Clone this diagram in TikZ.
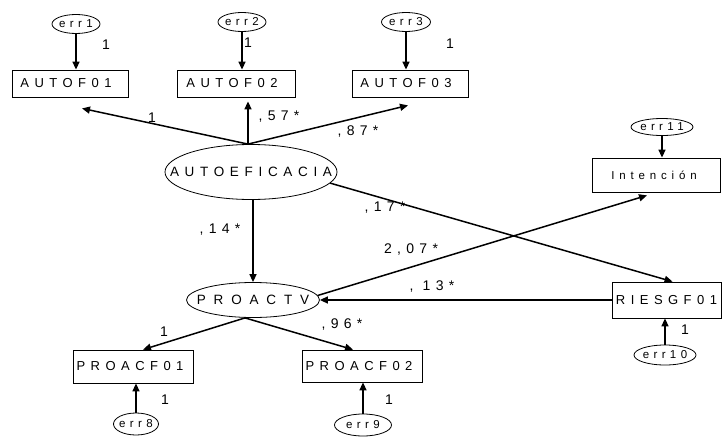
\documentclass[tikz,border=0pt]{standalone}
\usepackage{fontspec}
\setmainfont{Liberation Sans}
\newfontfamily\spf[LetterSpace=42]{Liberation Sans}
\newfontfamily\spfw[LetterSpace=58]{Liberation Sans}
\newfontfamily\spfc[LetterSpace=38]{Liberation Sans}
\usetikzlibrary{shapes.geometric,arrows.meta}
\begin{document}
\begin{tikzpicture}[x=1pt,y=-1pt,
  obs/.style={draw,line width=0.8pt,rectangle,inner sep=0pt,font=\spf\fontsize{13}{15}\selectfont},
  lat/.style={draw,line width=0.8pt,ellipse,inner sep=0pt,font=\spf\fontsize{13.5}{15}\selectfont},
  errs/.style={draw,line width=0.8pt,ellipse,inner sep=0pt,font=\spfc\fontsize{11.5}{13}\selectfont},
  arr/.style={line width=1.5pt,-{Triangle[length=8pt,width=7pt]}},
  coef/.style={inner sep=0pt,font=\spfc\fontsize{14}{16}\selectfont}]
\useasboundingbox (0,0) rectangle (722,436);
% observed boxes
\node[obs,minimum width=116pt,minimum height=27pt] (A1) at (70,83.5) {\makebox[0pt]{\hspace*{-8pt}AUTOF01}};
\node[obs,minimum width=118pt,minimum height=27pt] (A2) at (236,83.5) {\makebox[0pt]{\hspace*{-8pt}AUTOF02}};
\node[obs,minimum width=116pt,minimum height=27pt] (A3) at (410,83.5) {\makebox[0pt]{\hspace*{-8pt}AUTOF03}};
\node[obs,minimum width=128pt,minimum height=34pt,font=\spf\fontsize{11.5}{13}\selectfont] (IN) at (656,175) {\makebox[0pt]{\hspace*{-4pt}Intención}};
\node[obs,minimum width=109pt,minimum height=36pt] (RI) at (666.5,300) {\makebox[0pt]{RIESGF01}};
\node[obs,minimum width=120pt,minimum height=33pt] (P1) at (133,366.5) {\makebox[0pt]{\hspace*{-6pt}PROACF01}};
\node[obs,minimum width=120pt,minimum height=32pt] (P2) at (362,366) {\makebox[0pt]{\hspace*{-6pt}PROACF02}};
% latent
\node[lat,minimum width=172pt,minimum height=55pt] (AE) at (251,172) {\makebox[0pt]{AUTOEFICACIA}};
\node[lat,minimum width=133pt,minimum height=35pt,font=\spfw\fontsize{13.5}{15}\selectfont] (PR) at (253,300) {\makebox[0pt]{PROACTV}};
% errors
\node[errs,minimum width=48pt,minimum height=19pt] (e1) at (76,24) {\makebox[0pt]{err1}};
\node[errs,minimum width=48pt,minimum height=19pt] (e2) at (242,22) {\makebox[0pt]{err2}};
\node[errs,minimum width=49pt,minimum height=19pt] (e3) at (406,22) {\makebox[0pt]{err3}};
\node[errs,minimum width=62pt,minimum height=17pt] (e11) at (662,127) {\makebox[0pt]{err11}};
\node[errs,minimum width=62pt,minimum height=20pt] (e10) at (665,355) {\makebox[0pt]{err10}};
\node[errs,minimum width=45pt,minimum height=22pt] (e8) at (136,424) {\makebox[0pt]{err8}};
\node[errs,minimum width=57pt,minimum height=22pt] (e9) at (363,425) {\makebox[0pt]{err9}};
% error arrows
\draw[arr] (e1.south) -- (e1.south |- A1.north);
\draw[arr] (e2.south) -- (e2.south |- A2.north);
\draw[arr] (e3.south) -- (e3.south |- A3.north);
\draw[arr] (e11.south) -- (e11.south |- IN.north);
\draw[arr] (e10.north) -- (e10.north |- RI.south);
\draw[arr] (e8.north) -- (e8.north |- P1.south);
\draw[arr] (e9.north) -- (e9.north |- P2.south);
% structural arrows
\draw[arr] ([xshift=-3pt]AE.north) -- ([xshift=12pt,yshift=-11pt]A1.south);
\draw[arr] ([xshift=-3pt]AE.north) -- ([xshift=12pt,yshift=-4pt]A2.south);
\draw[arr] ([xshift=-3pt]AE.north) -- ([xshift=-2pt,yshift=-8pt]A3.south);
\draw[arr] (PR.north |- AE.south) -- (PR.north);
\draw[arr] (AE.-8) -- ([xshift=6pt]RI.north);
\draw[arr] (PR.4) -- ([xshift=-9pt,yshift=-3pt]IN.south);
\draw[arr] (RI.west) -- (PR.east);
\draw[arr] ([xshift=-8pt]PR.south) -- ([xshift=10pt]P1.north);
\draw[arr] ([xshift=-8pt]PR.south) -- ([xshift=-9pt]P2.north);
% coefficients
\node[coef] (c1) at (106,45) {1};
\node[coef] (c2) at (248,43) {1};
\node[coef] (c3) at (450,44) {1};
\node[coef] (c4) at (152,118) {1};
\node[coef] (c5) at (279,117) {,57*};
\node[coef] (c6) at (358,132) {,87*};
\node[coef] (c7) at (385,208) {,17*};
\node[coef] (c8) at (220,230) {,14*};
\node[coef] (c9) at (411,250) {2,07*};
\node[coef] (c10) at (432,287) {, 13*};
\node[coef] (c11) at (164,332) {1};
\node[coef] (c12) at (342,325) {,96*};
\node[coef] (c13) at (165,400) {1};
\node[coef] (c14) at (389,400) {1};
\node[coef] (c15) at (685,330) {1};
\end{tikzpicture}
\end{document}
